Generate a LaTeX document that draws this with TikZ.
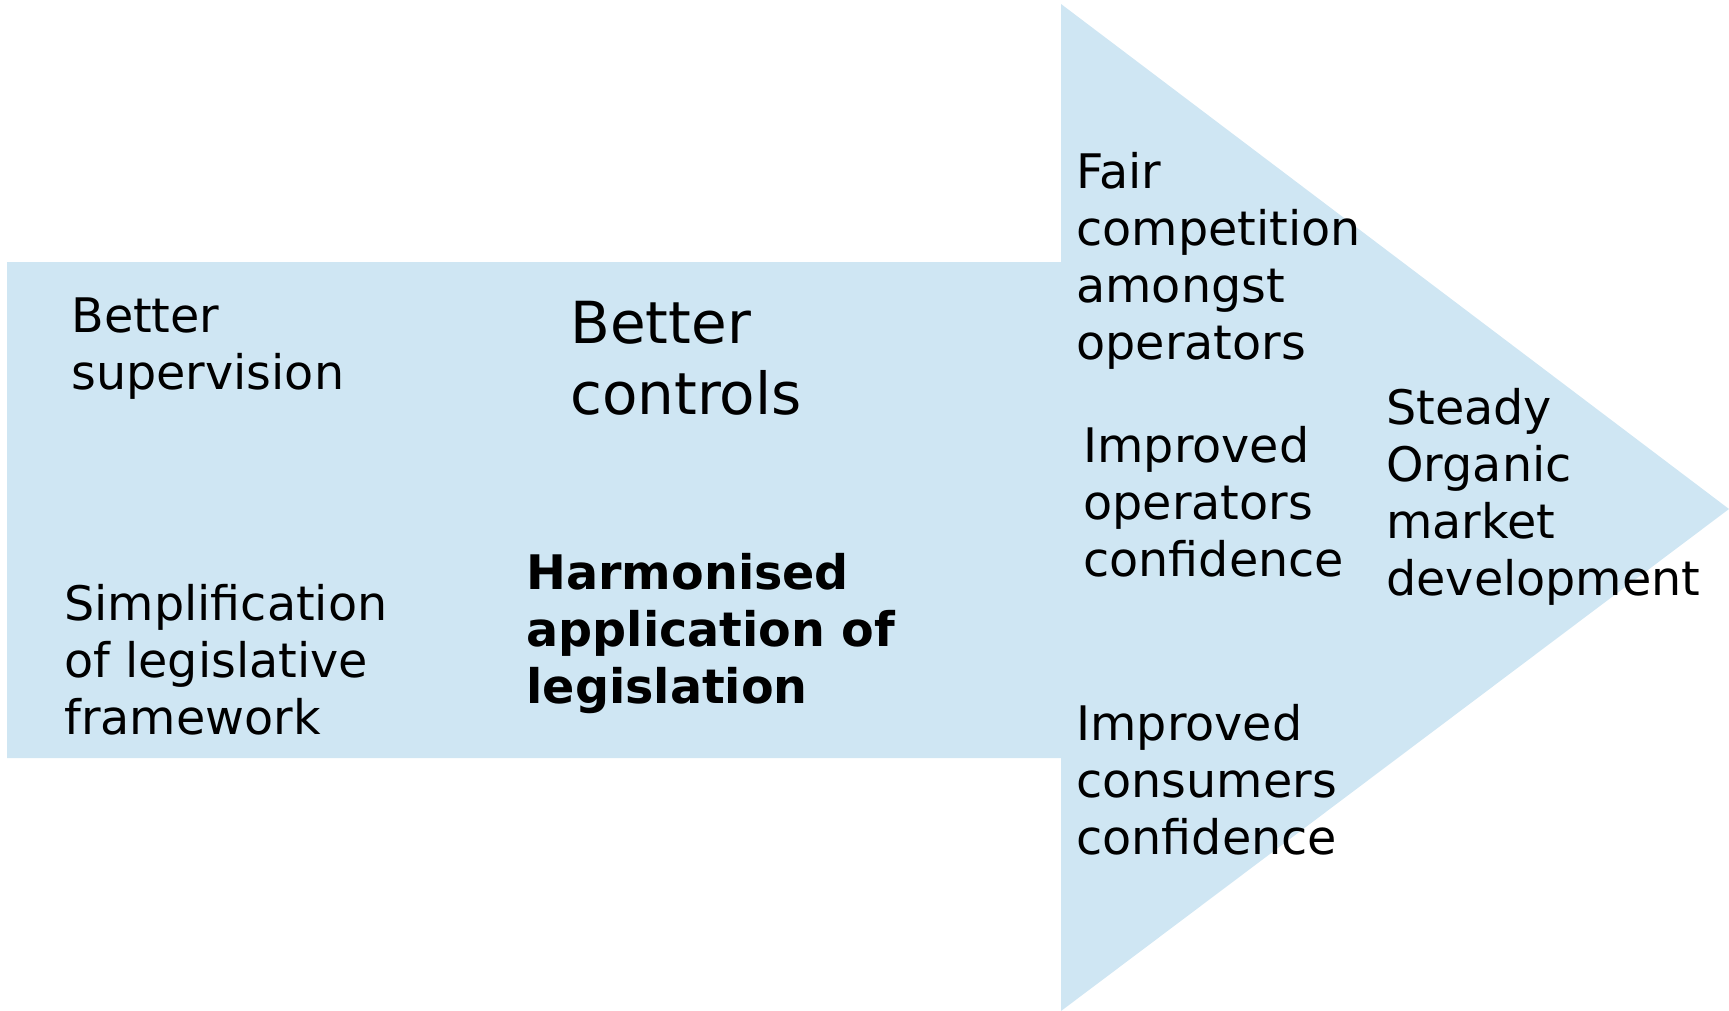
\documentclass[tikz,border=0pt]{standalone}
\usepackage{fontspec}
\setmainfont{DejaVu Sans}
\usepackage{xcolor}
\usetikzlibrary{positioning}
\definecolor{paleblue}{RGB}{207,230,243}

\begin{document}
\begin{tikzpicture}[x=0.5pt,y=-0.5pt,
  every node/.style={anchor=base west,align=left,inner sep=0pt,font=\fontsize{23.8}{28.5}\selectfont}]
\useasboundingbox (0,0) rectangle (1729,1011);
% the big arrow
\fill[paleblue] (7,262) -- (1061,262) -- (1061,4) -- (1729,509) -- (1061,1011) -- (1061,758) -- (7,758) -- cycle;

% nodes sit on the baseline of their last line
\node (sup) at (71,389) {Better\\supervision};
\node (simp) at (64,734) {Simplification\\of legislative\\framework};
\node[font=\fontsize{29}{35.3}\selectfont] (ctrl) at (570,414) {Better\\controls};
\node[font=\fontsize{23.8}{28.5}\selectfont\bfseries] (harm) at (526,703) {Harmonised\\application of\\legislation};

\node (fair) at (1076,359) {Fair\\competition\\amongst\\operators};
\node (opconf) at (1083,576) {Improved\\operators\\confidence};
\node (conconf) at (1076,854) {Improved\\consumers\\confidence};
\node (steady) at (1386,595) {Steady\\Organic\\market\\development};
\end{tikzpicture}
\end{document}
